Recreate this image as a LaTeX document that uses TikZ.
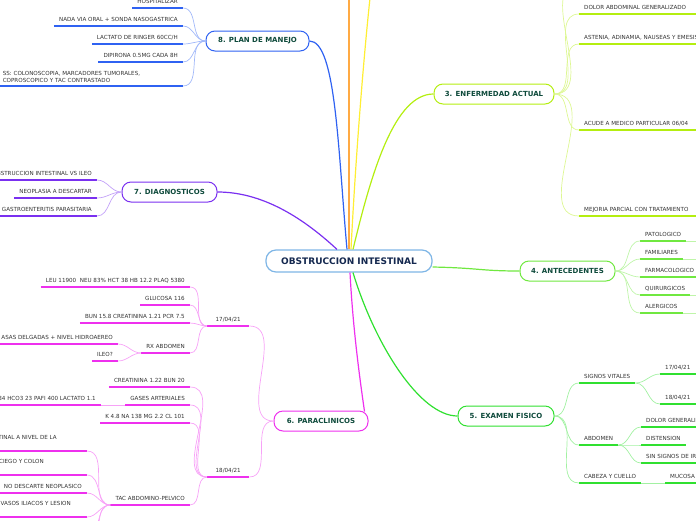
\documentclass[tikz,border=0pt]{standalone}
\usepackage{fontspec}
\setmainfont{DejaVu Sans}
\definecolor{planblue}{HTML}{2F62F2}
\definecolor{diagpurple}{HTML}{7A30F0}
\definecolor{paramag}{HTML}{EE30EE}
\definecolor{enflime}{HTML}{B4EE10}
\definecolor{antgreen}{HTML}{70E840}
\definecolor{exgreen}{HTML}{30E030}
\definecolor{branchorange}{HTML}{FFAA44}
\definecolor{branchyellow}{HTML}{FFEE33}
\definecolor{rootblue}{HTML}{7FB6E6}
\definecolor{roottext}{HTML}{14284F}
\definecolor{topictext}{HTML}{0E4A3B}
\definecolor{leafgray}{HTML}{333333}

\begin{document}
\begin{tikzpicture}[x=1pt,y=-1pt,
		limb/.style={line width=1.2pt, draw=#1},
		twig/.style={line width=0.7pt, draw=#1!45},
		uline/.style={line width=1.6pt, draw=#1},
		topic/.style={draw=#1, line width=1pt, fill=white, rounded corners=9pt, minimum height=20pt, inner sep=0pt, text=topictext, font=\bfseries\fontsize{7}{8}\selectfont},
		leaf/.style={inner xsep=5pt, inner ysep=2.5pt, text depth=1.5pt, text=leafgray, font=\fontsize{5.6}{7}\selectfont},
		leafL/.style={leaf, anchor=south east},
		leafR/.style={leaf, anchor=south west},
		wide/.style={text width=200pt, align=left},
		tall/.style={text depth=8.5pt}]
		\useasboundingbox (0,0) rectangle (696,520);

		% centre and topics
		\node[draw=rootblue, line width=1.2pt, fill=white, rounded corners=10pt, minimum width=166pt, minimum height=22pt, text=roottext, font=\bfseries\fontsize{9}{10}\selectfont] (root) at (349,261) {OBSTRUCCION INTESTINAL};
		\node[topic=planblue, minimum width=103pt] (plan) at (257.5,41) {8. PLAN DE MANEJO};
		\node[topic=diagpurple, minimum width=95pt] (diag) at (169.5,192) {7. DIAGNOSTICOS};
		\node[topic=enflime, minimum width=120pt] (enf) at (494,94) {3. ENFERMEDAD ACTUAL};
		\node[topic=antgreen, minimum width=95pt] (ant) at (567.5,271) {4. ANTECEDENTES};
		\node[topic=exgreen, minimum width=96pt] (exam) at (506,416) {5. EXAMEN FISICO};
		\node[topic=paramag, minimum width=94pt] (para) at (321,421) {6. PARACLINICOS};
		\coordinate (top1) at (349,-20);
		\coordinate (top2) at (372,-20);

		\draw[limb=branchorange] (root.north) -- (top1);
		\draw[limb=branchyellow] ([xshift=2pt]root.north) .. controls (356,150) and (365,40) .. (top2);
		\draw[limb=planblue] ([xshift=-2pt]root.north) .. controls (338,150) and (336,41) .. (plan.east);
		\draw[limb=diagpurple] ([xshift=-12pt]root.north) .. controls (300,215) and (260,192) .. (diag.east);
		\draw[limb=enflime] ([xshift=4pt]root.north) .. controls (372,170) and (395,94) .. (enf.west);
		\draw[limb=antgreen] ([yshift=-6pt]root.east) .. controls (480,268) and (480,271) .. (ant.west);
		\draw[limb=exgreen] ([xshift=4pt]root.south) .. controls (375,345) and (420,416) .. (exam.west);
		\draw[limb=paramag] ([xshift=1pt]root.south) .. controls (353,330) and (360,380) .. ([xshift=-4pt,yshift=-1pt]para.north east);

		% 8. plan de manejo
		\node[leafL] (p1) at (183,8) {HOSPITALIZAR};
		\node[leafL] (p2) at (183,26) {NADA VIA ORAL + SONDA NASOGASTRICA};
		\node[leafL] (p3) at (183,44) {LACTATO DE RINGER 60CC/H};
		\node[leafL] (p4) at (183,62) {DIPIRONA 0.5MG CADA 8H};
		\node[leafL, text width=175pt, align=left, text depth=7.5pt] (p5) at (183,86) {SS: COLONOSCOPIA, MARCADORES TUMORALES,\\COPROSCOPICO Y TAC CONTRASTADO};
		\foreach \n in {p1,p2,p3,p4,p5}{
			\draw[uline=planblue] (\n.south west) -- (\n.south east);
			\draw[twig=planblue] (\n.south east) to[out=0,in=180] (plan.west);
		}

		% 7. diagnosticos
		\node[leafL] (d1) at (97,180) {OBSTRUCCION INTESTINAL VS ILEO};
		\node[leafL] (d2) at (97,198) {NEOPLASIA A DESCARTAR};
		\node[leafL] (d3) at (97,216) {GASTROENTERITIS PARASITARIA};
		\foreach \n in {d1,d2,d3}{
			\draw[uline=diagpurple] (\n.south west) -- (\n.south east);
			\draw[twig=diagpurple] (\n.south east) to[out=0,in=180] (diag.west);
		}

		% 6. paraclinicos
		\node[leaf, anchor=south west, minimum width=42pt] (f17) at (207,326) {17/04/21};
		\node[leaf, anchor=south west, minimum width=42pt] (f18) at (207,477) {18/04/21};
		\node[leafL] (a1) at (190,287) {LEU 11900\ \ NEU 83\% HCT 38 HB 12.2 PLAQ 5380};
		\node[leafL] (a2) at (190,305) {GLUCOSA 116};
		\node[leafL] (a3) at (190,323) {BUN 15.8 CREATININA 1.21 PCR 7.5};
		\node[leafL] (a4) at (190,353) {RX ABDOMEN};
		\node[leafL] (r1) at (118,344) {ASAS DELGADAS + NIVEL HIDROAEREO};
		\node[leafL] (r2) at (118,361) {ILEO?};
		\node[leafL] (b1) at (190,387) {CREATININA 1.22 BUN 20};
		\node[leafL] (b2) at (190,405) {GASES ARTERIALES};
		\node[leafL] (b3) at (190,423) {K 4.8 NA 138 MG 2.2 CL 101};
		\node[leafL] (b4) at (190,505) {TAC ABDOMINO-PELVICO};
		\node[leafL] (g1) at (101,405) {84 HCO3 23 PAFI 400 LACTATO 1.1};
		\node[leafL, tall] (t1) at (87,451) {TINAL A NIVEL DE LA\hspace*{25pt}};
		\node[leafL, tall] (t2) at (87,475) {CIEGO Y COLON\hspace*{38pt}};
		\node[leafL] (t3) at (87,493) {NO DESCARTE NEOPLASICO};
		\node[leafL, tall] (t4) at (87,517) {VASOS ILIACOS Y LESION\hspace*{11pt}};
		\coordinate (t5) at (87,535);
		\coordinate (t6) at (87,551);
		\foreach \n in {f17,f18,a1,a2,a3,a4,r1,r2,b1,b2,b3,b4,g1,t1,t2,t3,t4}
			\draw[uline=paramag] (\n.south west) -- (\n.south east);
		\draw[twig=paramag] (f17.south east) to[out=0,in=180] (para.west);
		\draw[twig=paramag] (f18.south east) to[out=0,in=180] (para.west);
		\foreach \n in {a1,a2,a3,a4}
			\draw[twig=paramag] (\n.south east) to[out=0,in=180] (f17.south west);
		\foreach \n in {r1,r2}
			\draw[twig=paramag] (\n.south east) to[out=0,in=180] (a4.south west);
		\foreach \n in {b1,b2,b3,b4}
			\draw[twig=paramag] (\n.south east) to[out=0,in=180] (f18.south west);
		\draw[twig=paramag] (g1.south east) -- (b2.south west);
		\foreach \n in {t1,t2,t3,t4}
			\draw[twig=paramag] (\n.south east) to[out=0,in=180] (b4.south west);
		\draw[twig=paramag] (t5) to[out=0,in=180] (b4.south west);
		\draw[twig=paramag] (t6) to[out=0,in=180] (b4.south west);

		% 3. enfermedad actual
		\coordinate (e0) at (579,-16);
		\node[leafR, wide] (e1) at (579,14) {DOLOR ABDOMINAL GENERALIZADO};
		\node[leafR, wide] (e2) at (579,44) {ASTENIA, ADINAMIA, NAUSEAS Y EMESIS};
		\node[leafR, wide] (e3) at (579,130) {ACUDE A MEDICO PARTICULAR 06/04};
		\node[leafR, wide] (e4) at (579,216) {MEJORIA PARCIAL CON TRATAMIENTO};
		\draw[twig=enflime] (enf.east) to[out=0,in=180] (e0);
		\foreach \n in {e1,e2,e3,e4}{
			\draw[uline=enflime] (\n.south west) -- (\n.south east);
			\draw[twig=enflime] (enf.east) to[out=0,in=180] (\n.south west);
		}

		% 4. antecedentes
		\node[leafR] (n1) at (640,241) {PATOLOGICO};
		\node[leafR] (n2) at (640,259) {FAMILIARES};
		\node[leafR] (n3) at (640,277) {FARMACOLOGICO};
		\node[leafR] (n4) at (640,295) {QUIRURGICOS};
		\node[leafR] (n5) at (640,313) {ALERGICOS};
		\foreach \i/\yy in {1/241,2/259,3/277,4/295,5/313}{
			\coordinate (nx\i) at (720,\yy);
			\draw[uline=antgreen] (n\i.south west) -- (n\i.south east);
			\draw[twig=antgreen] (ant.east) to[out=0,in=180] (n\i.south west);
			\draw[twig=antgreen] (n\i.south east) -- (nx\i);
		}

		% 5. examen fisico
		\node[leafR] (s1) at (579,383) {SIGNOS VITALES};
		\node[leafR] (s2) at (579,445) {ABDOMEN};
		\node[leafR] (s3) at (579,483) {CABEZA Y CUELLO};
		\node[leafR, wide] (v1) at (660,374) {17/04/21};
		\node[leafR, wide] (v2) at (660,404) {18/04/21};
		\node[leafR, wide] (w1) at (641,427) {DOLOR GENERALIZADO};
		\node[leafR] (w2) at (641,445) {DISTENSION};
		\node[leafR, wide] (w3) at (641,463) {SIN SIGNOS DE IRRITACION};
		\node[leafR, wide] (m1) at (665,483) {MUCOSA};
		\foreach \n in {s1,s2,s3,v1,v2,w1,w2,w3,m1}
			\draw[uline=exgreen] (\n.south west) -- (\n.south east);
		\foreach \n in {s1,s2,s3}
			\draw[twig=exgreen] (exam.east) to[out=0,in=180] (\n.south west);
		\foreach \n in {v1,v2}
			\draw[twig=exgreen] (s1.south east) to[out=0,in=180] (\n.south west);
		\foreach \n in {w1,w2,w3}
			\draw[twig=exgreen] (s2.south east) to[out=0,in=180] (\n.south west);
		\draw[twig=exgreen] (s3.south east) -- (m1.south west);
	\end{tikzpicture}
\end{document}
